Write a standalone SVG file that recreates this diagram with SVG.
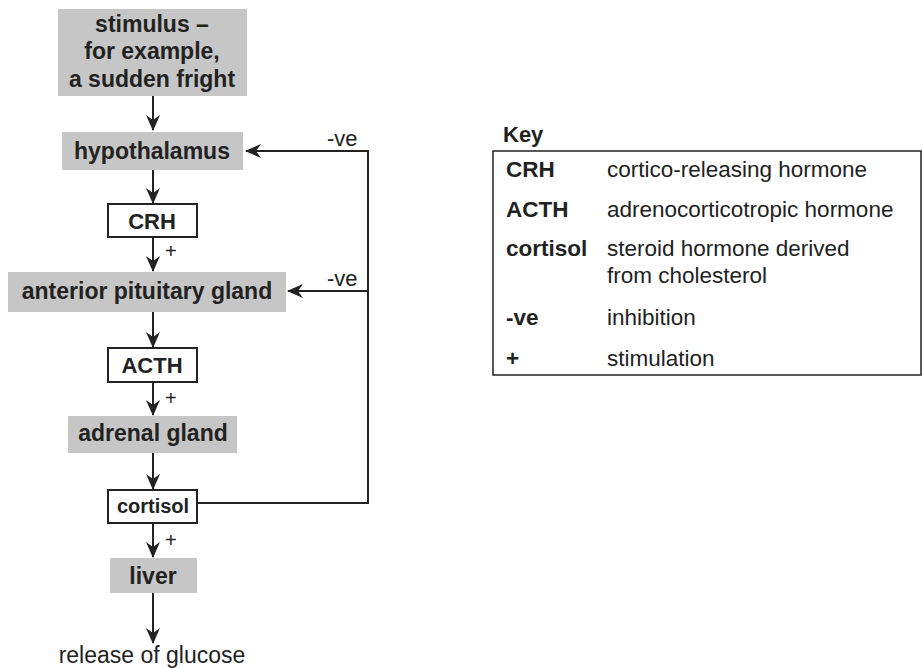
<svg xmlns="http://www.w3.org/2000/svg" width="922" height="668" viewBox="0 0 922 668">
<style>
.g{fill:#c6c6c6;stroke:none}
.w{fill:#fff;stroke:#222;stroke-width:2}
.b{font-family:"Liberation Sans",Arial,sans-serif;font-weight:bold;fill:#222;text-anchor:middle}
.k{font-family:"Liberation Sans",Arial,sans-serif;font-weight:bold;fill:#222}
.r{font-family:"Liberation Sans",Arial,sans-serif;fill:#222}
.c{fill:none;stroke:#222;stroke-width:2}
</style>
<defs>
<marker id="ah" markerWidth="16" markerHeight="14" refX="15" refY="7" orient="auto" markerUnits="userSpaceOnUse">
<path d="M0,0 L16,7 L0,14 L5,7 Z" fill="#222"/>
</marker>
</defs>
<rect width="922" height="668" fill="#fff"/>
<g id="stimulus"><rect class="g" x="58" y="9" width="189" height="87"/>
<text class="b" x="152" y="32" font-size="23">stimulus –</text>
<text class="b" x="152" y="59" font-size="23">for example,</text>
<text class="b" x="152" y="87" font-size="23">a sudden fright</text></g>
<g id="hypothalamus"><rect class="g" x="62" y="132" width="181" height="38"/>
<text class="b" x="152" y="159" font-size="23">hypothalamus</text></g>
<g id="crh"><rect class="w" x="108" y="204" width="89" height="33"/>
<text class="b" x="152" y="229" font-size="22">CRH</text></g>
<g id="pituitary"><rect class="g" x="8" y="272" width="278" height="40"/>
<text class="b" x="147" y="299" font-size="23">anterior pituitary gland</text></g>
<g id="acth"><rect class="w" x="108" y="348" width="89" height="34"/>
<text class="b" x="152" y="373" font-size="22">ACTH</text></g>
<g id="adrenal"><rect class="g" x="68" y="416" width="169" height="37"/>
<text class="b" x="153" y="441" font-size="23">adrenal gland</text></g>
<g id="cortisol"><rect class="w" x="108" y="490" width="89" height="33"/>
<text class="b" x="153" y="513" font-size="20">cortisol</text></g>
<g id="liver"><rect class="g" x="110" y="558" width="87" height="35"/>
<text class="b" x="153" y="584" font-size="23">liver</text></g>
<g id="glucose"><text class="r" x="152" y="663" font-size="23" text-anchor="middle">release of glucose</text></g>
<g id="connectors">
<line class="c" x1="153" y1="96" x2="153" y2="130" marker-end="url(#ah)"/>
<line class="c" x1="153" y1="170" x2="153" y2="203" marker-end="url(#ah)"/>
<line class="c" x1="153" y1="237" x2="153" y2="271" marker-end="url(#ah)"/>
<line class="c" x1="153" y1="312" x2="153" y2="347" marker-end="url(#ah)"/>
<line class="c" x1="153" y1="382" x2="153" y2="415" marker-end="url(#ah)"/>
<line class="c" x1="153" y1="453" x2="153" y2="489" marker-end="url(#ah)"/>
<line class="c" x1="153" y1="523" x2="153" y2="557" marker-end="url(#ah)"/>
<line class="c" x1="153" y1="593" x2="153" y2="643" marker-end="url(#ah)"/>
<polyline class="c" points="197,503 368,503 368,151 246,151" marker-end="url(#ah)"/>
<line class="c" x1="368" y1="291" x2="288" y2="291" marker-end="url(#ah)"/>
<text class="r" x="165" y="258" font-size="20">+</text>
<text class="r" x="165" y="405" font-size="20">+</text>
<text class="r" x="165" y="547" font-size="20">+</text>
<text class="r" x="327" y="146" font-size="22">-ve</text>
<text class="r" x="327" y="286" font-size="22">-ve</text>
</g>
<g id="key">
<text class="k" x="503" y="142" font-size="22">Key</text>
<rect x="493" y="151" width="428" height="224" fill="none" stroke="#222" stroke-width="1.5"/>
<g font-size="22.5">
<text class="k" x="506" y="177">CRH</text>
<text class="r" x="607" y="177">cortico-releasing hormone</text>
<text class="k" x="506" y="217">ACTH</text>
<text class="r" x="607" y="217">adrenocorticotropic hormone</text>
<text class="k" x="506" y="256">cortisol</text>
<text class="r" x="607" y="256">steroid hormone derived</text>
<text class="r" x="607" y="283">from cholesterol</text>
<text class="k" x="506" y="325">-ve</text>
<text class="r" x="607" y="325">inhibition</text>
<text class="k" x="506" y="366">+</text>
<text class="r" x="607" y="366">stimulation</text>
</g>
</g>
</svg>
